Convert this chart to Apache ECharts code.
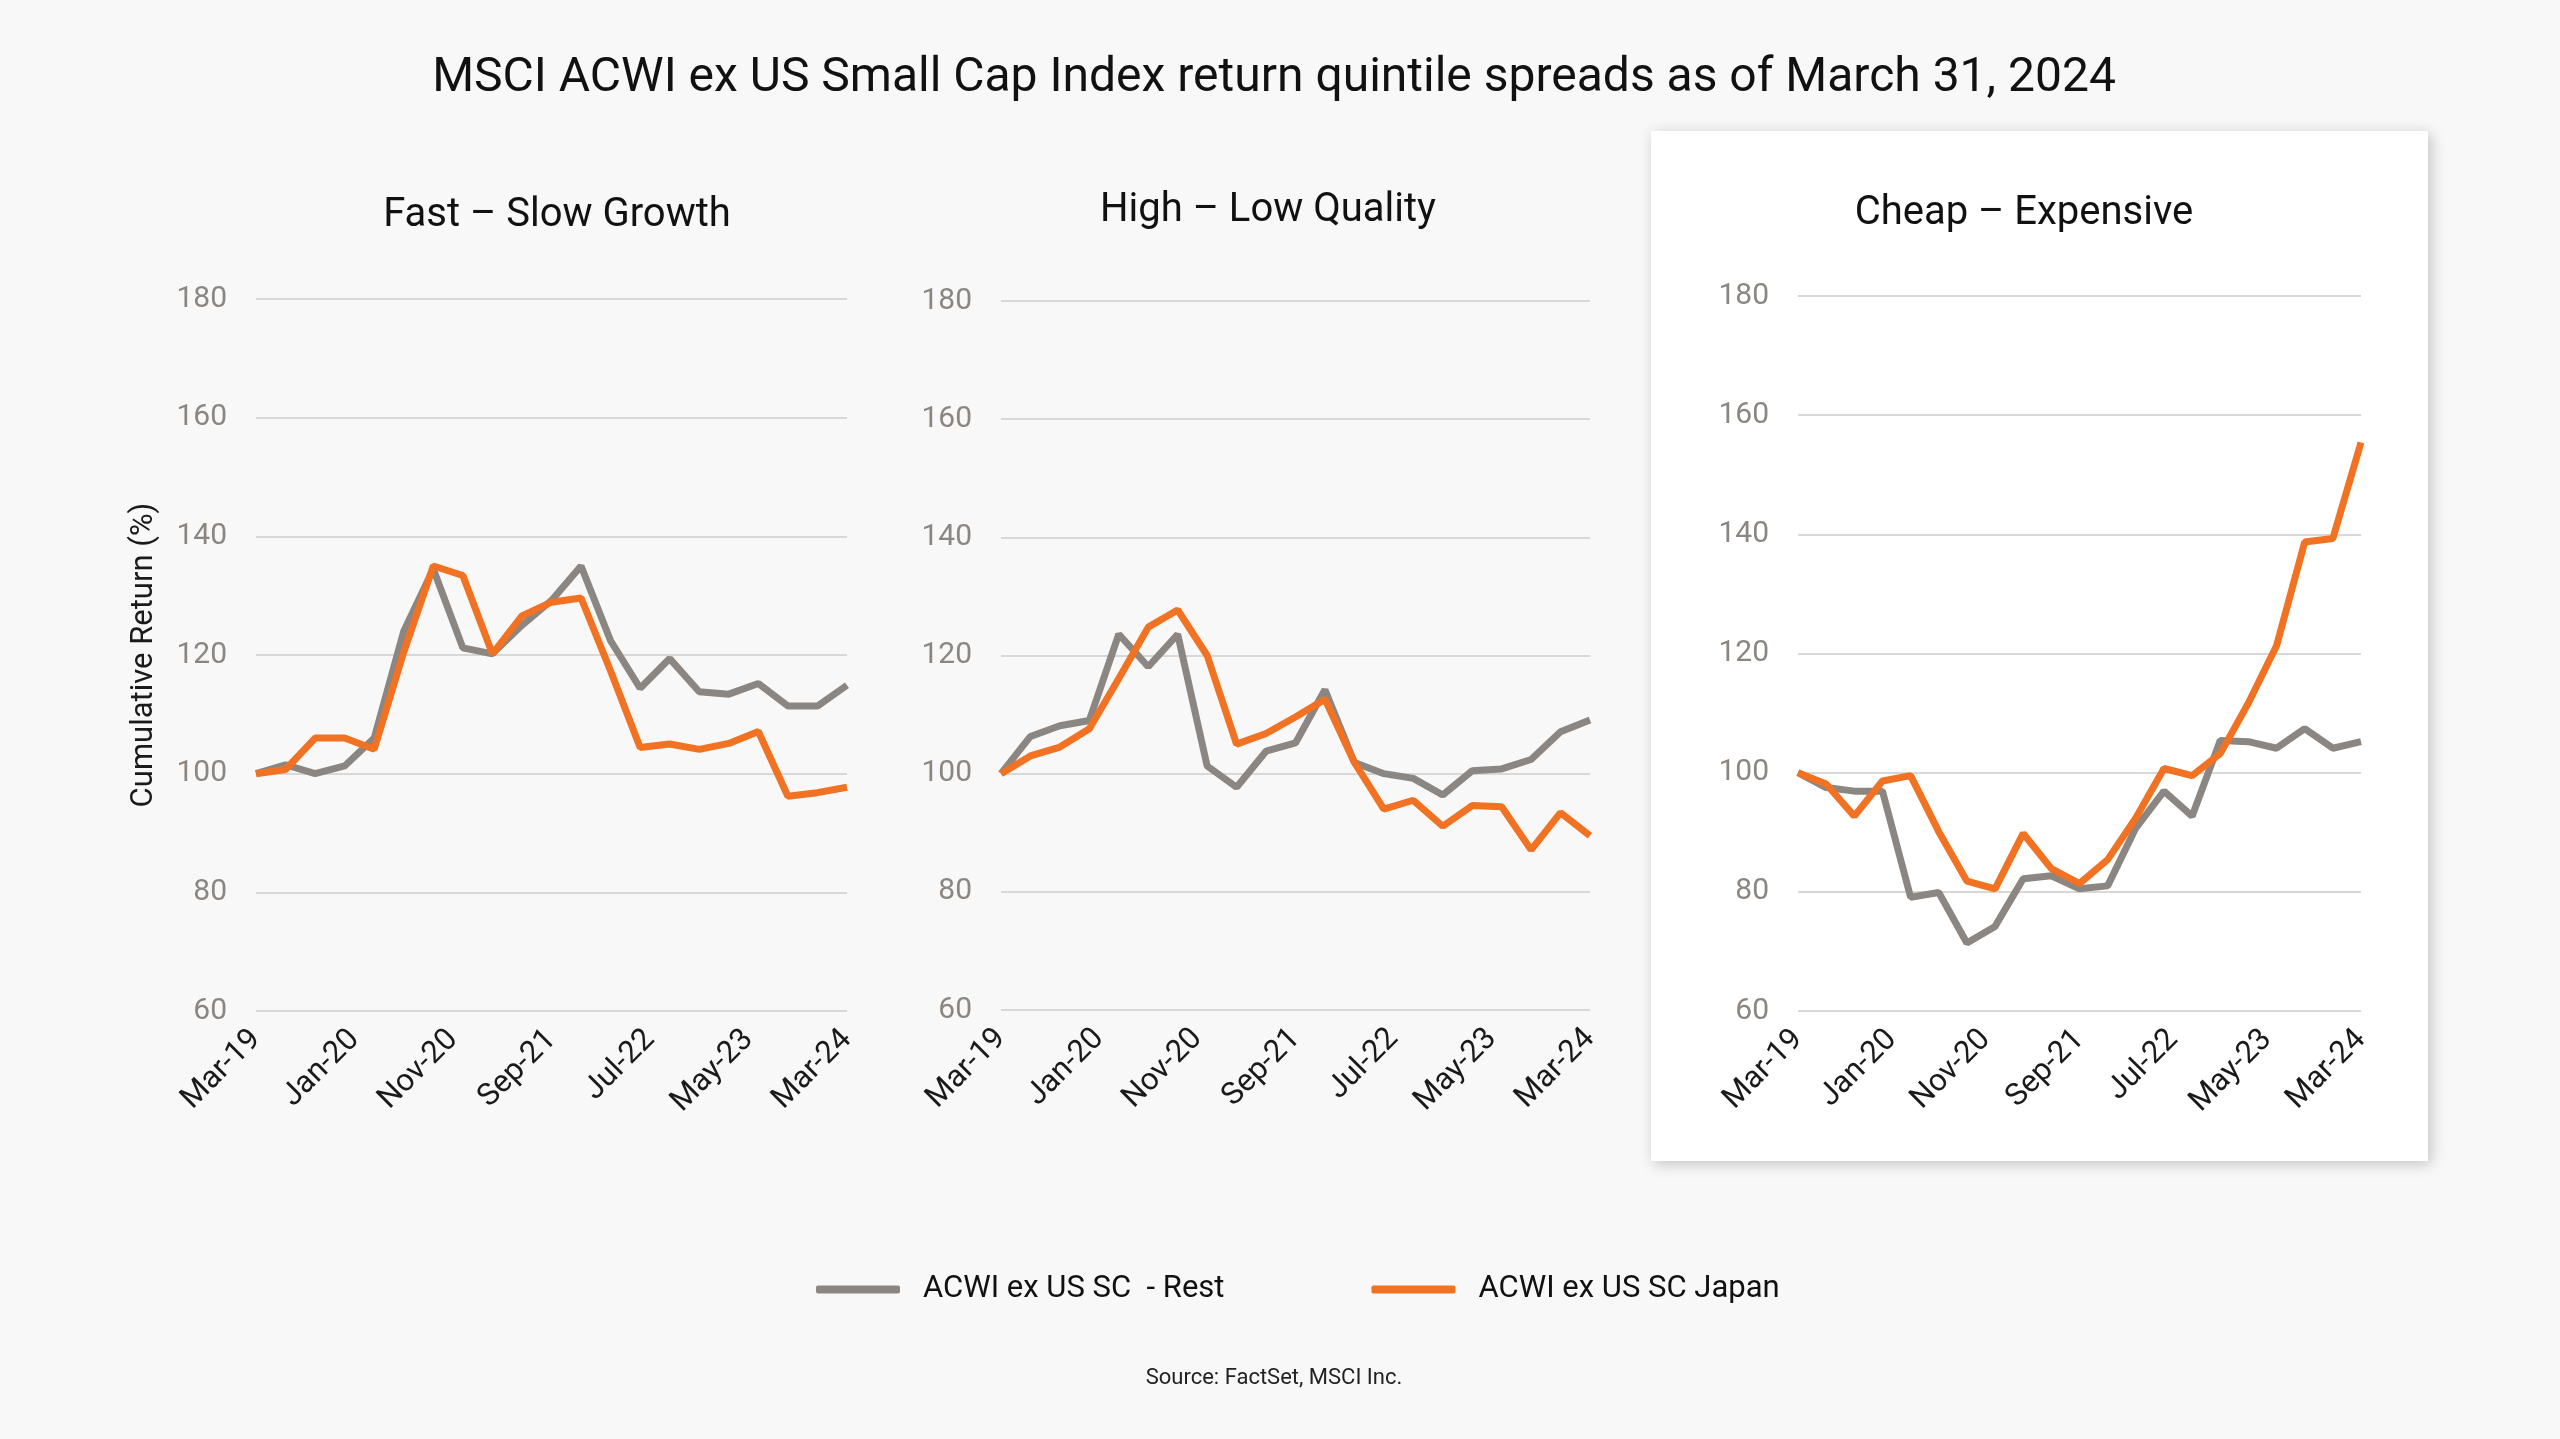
<!DOCTYPE html>
<html>
<head>
<meta charset="utf-8">
<script src="https://cdn.jsdelivr.net/npm/echarts@6/dist/echarts.min.js"></script>
<style>
html,body{margin:0;padding:0;background:#f8f8f8;}
#chart{width:2560px;height:1439px;}
</style>
</head>
<body>
<div id="chart"></div>
<script>
// Quarter-end dates (x positions in months from Mar-19)
const quarters = ['Mar-19','Jun-19','Sep-19','Dec-19','Mar-20','Jun-20','Sep-20','Dec-20','Mar-21','Jun-21','Sep-21','Dec-21','Mar-22','Jun-22','Sep-22','Dec-22','Mar-23','Jun-23','Sep-23','Dec-23','Mar-24'];
const tickLabels = ['Mar-19','Jan-20','Nov-20','Sep-21','Jul-22','May-23','Mar-24'];
const panelTitles = ['Fast \u2013 Slow Growth','High \u2013 Low Quality','Cheap \u2013 Expensive'];
const seriesNames = ['ACWI ex US SC  - Rest','ACWI ex US SC Japan'];

// Fast – Slow Growth
const growthRest  = [100,101.5,100,101.3,106,124,134.5,121.2,120.2,125,129.2,135,122.4,114.4,119.4,113.8,113.4,115.2,111.4,111.4,114.9];
const growthJapan = [100,100.7,106,106,104.1,120.5,135,133.4,120.2,126.6,128.9,129.6,117.3,104.4,105,104.1,105.1,107.1,96.2,96.8,97.7];
// High – Low Quality
const qualityRest  = [100,106.3,108.1,109,123.6,118.1,123.6,101.3,97.7,103.8,105.2,114.2,101.9,100,99.2,96.4,100.5,100.8,102.4,107.1,109.1];
const qualityJapan = [100,103,104.5,107.6,116.1,124.8,127.7,120,105,106.8,109.6,112.6,101.9,94,95.5,91.1,94.6,94.4,87.1,93.4,89.5];
// Cheap – Expensive
const valueRest  = [100,97.5,96.9,96.9,79.1,79.9,71.4,74.2,82.2,82.7,80.5,81,90.7,96.9,92.7,105.4,105.2,104.1,107.4,104.1,105.2];
const valueJapan = [100,98.1,92.7,98.6,99.5,90.1,81.8,80.5,89.8,83.9,81.4,85.4,92.4,100.7,99.5,103.2,111.7,121.3,138.7,139.3,155.4];

const panels = [[growthRest, growthJapan],[qualityRest, qualityJapan],[valueRest, valueJapan]];

const GREY = '#8b8681', ORANGE = '#f07222';
const FONT = 'Roboto, "DejaVu Sans", sans-serif';

const grids = [
  {left:256, top:299, width:591, height:712},
  {left:1001, top:301, width:589, height:709},
  {left:1798, top:296, width:563, height:715}
];
const titleCenters = [[557,216],[1268,211],[2024,214]];

const toPts = arr => arr.map((v,i)=>[i*3, v]);

const xAxes = grids.map((g,i)=>({
  type:'value', gridIndex:i, min:0, max:60, interval:10,
  axisLine:{show:false}, axisTick:{show:false}, splitLine:{show:false},
  axisLabel:{rotate:45, margin:24, color:'#1a1a1a', fontSize:31, fontFamily:FONT,
    formatter: v => tickLabels[Math.round(v/10)] || ''}
}));
const yAxes = grids.map((g,i)=>({
  type:'value', gridIndex:i, min:60, max:180, interval:20,
  axisLine:{show:false}, axisTick:{show:false},
  splitLine:{lineStyle:{color:'#d8d8d8', width:2}},
  axisLabel:{margin:29, color:'#8b8681', fontSize:30, fontFamily:FONT},
  name: i===0 ? 'Cumulative Return (%)' : '',
  nameLocation:'middle', nameGap:96, nameRotate:90,
  nameTextStyle:{color:'#1a1a1a', fontSize:31, fontFamily:FONT}
}));

const series = [];
panels.forEach((p,i)=>{
  series.push({name:seriesNames[0], type:'line', xAxisIndex:i, yAxisIndex:i, data:toPts(p[0]),
    showSymbol:false, symbol:'none', lineStyle:{color:GREY, width:7}, itemStyle:{color:GREY}, z:2});
  series.push({name:seriesNames[1], type:'line', xAxisIndex:i, yAxisIndex:i, data:toPts(p[1]),
    showSymbol:false, symbol:'none', lineStyle:{color:ORANGE, width:7}, itemStyle:{color:ORANGE}, z:3});
});

const graphics = [
  {type:'rect', z:-10, shape:{x:1651, y:131, width:777, height:1030},
   style:{fill:'#ffffff', shadowBlur:14, shadowColor:'rgba(0,0,0,0.22)', shadowOffsetX:3, shadowOffsetY:3}},
  {type:'text', x:1274, y:79,
   style:{text:'MSCI ACWI ex US Small Cap Index return quintile spreads as of March 31, 2024', fill:'#111', fontSize:48, fontFamily:FONT, align:'center', verticalAlign:'middle'}},
  {type:'text', x:1274, y:1378, style:{text:'Source: FactSet, MSCI Inc.', fill:'#222', fontSize:22, fontFamily:FONT, align:'center', verticalAlign:'middle'}}
];
panelTitles.forEach((t,i)=>{
  graphics.push({type:'text', x:titleCenters[i][0], y:titleCenters[i][1],
    style:{text:t, fill:'#111', fontSize:40, fontFamily:FONT, align:'center', verticalAlign:'middle'}});
});

const chart = echarts.init(document.getElementById('chart'));
chart.setOption({
  backgroundColor:'#f8f8f8',
  animation:false,
  grid: grids,
  xAxis: xAxes,
  yAxis: yAxes,
  legend:{
    data:seriesNames, left:816, top:1274, itemWidth:84, itemHeight:8, itemGap:147,
    icon:'roundRect', padding:0,
    textStyle:{color:'#111', fontSize:31, fontFamily:FONT, padding:[0,0,0,18]}
  },
  graphic: graphics,
  series: series
});
</script>
</body>
</html>
